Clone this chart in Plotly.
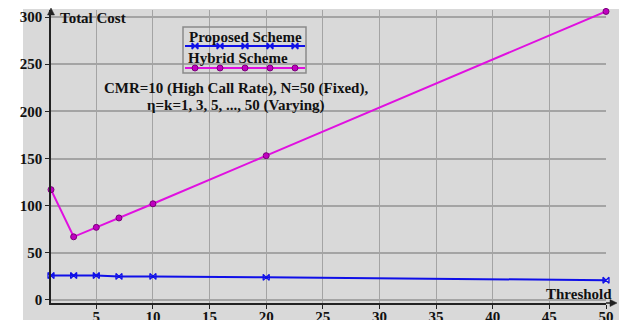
import plotly.graph_objects as go

# Threshold values (eta = k) and total cost for each scheme
threshold = [1, 3, 5, 7, 10, 20, 50]
proposed_cost = [26, 26, 26, 25, 25, 24, 21]
hybrid_cost = [117, 67, 77, 87, 102, 153, 306]

x_ticks = [5, 10, 15, 20, 25, 30, 35, 40, 45, 50]
y_ticks = [0, 50, 100, 150, 200, 250, 300]

SERIF = "Liberation Serif, Times New Roman, serif"
BLUE = "#1010e8"
MAGENTA = "#e010e0"
GRID = "#a4a4a4"
BG = "#d9d9d9"
AXIS = "#222222"

fig = go.Figure()

fig.add_trace(go.Scatter(
    x=threshold, y=proposed_cost, mode="lines+markers", name="Proposed Scheme",
    line=dict(color=BLUE, width=2), cliponaxis=False,
    marker=dict(symbol="bowtie-open", size=6, color=BLUE, line=dict(width=1.3, color=BLUE)),
    showlegend=False,
))
fig.add_trace(go.Scatter(
    x=threshold, y=hybrid_cost, mode="lines+markers", name="Hybrid Scheme",
    line=dict(color=MAGENTA, width=2), cliponaxis=False,
    marker=dict(symbol="circle", size=6, color="#c000c0", line=dict(width=1, color="#7a007a")),
    showlegend=False,
))

# Legend glyphs, drawn on a hidden overlay axis (pixel-like coordinates)
leg_x = [195, 220, 245, 270, 295]
fig.add_trace(go.Scatter(
    x=[185, 305], y=[46, 46], xaxis="x2", yaxis="y2", mode="lines",
    line=dict(color=BLUE, width=2), showlegend=False, hoverinfo="skip",
))
fig.add_trace(go.Scatter(
    x=leg_x, y=[46] * 5, xaxis="x2", yaxis="y2", mode="markers",
    marker=dict(symbol="bowtie-open", size=6, color=BLUE, line=dict(width=1.3, color=BLUE)),
    showlegend=False, hoverinfo="skip",
))
fig.add_trace(go.Scatter(
    x=[185, 305], y=[68, 68], xaxis="x2", yaxis="y2", mode="lines",
    line=dict(color=MAGENTA, width=2), showlegend=False, hoverinfo="skip",
))
fig.add_trace(go.Scatter(
    x=leg_x, y=[68] * 5, xaxis="x2", yaxis="y2", mode="markers",
    marker=dict(symbol="circle", size=6, color="#c000c0", line=dict(width=1, color="#7a007a")),
    showlegend=False, hoverinfo="skip",
))

font = dict(family=SERIF, size=15, color="#111111", weight="bold")
tick_font = dict(family=SERIF, size=15, color="#111111", weight="bold")

W, H = 619, 320
L, R, T, B = 51, 13, 10, 17
pw, ph = W - L - R, H - T - B


def px_x(p):
    return (p - L) / pw


def px_y(p):
    return 1 - (p - T) / ph


fig.update_layout(
    width=W, height=H,
    margin=dict(l=L, r=R, t=T, b=B, autoexpand=False),
    paper_bgcolor="white",
    plot_bgcolor="rgba(0,0,0,0)",
    font=font,
    xaxis=dict(
        range=[1, 50], tickvals=x_ticks, ticks="outside", ticklen=4, tickcolor=AXIS,
        ticklabelstandoff=-5,
        showgrid=True, gridcolor=GRID, gridwidth=1, zeroline=False,
        showline=True, linecolor=AXIS, linewidth=1.5, automargin=False,
        tickfont=tick_font,
    ),
    yaxis=dict(
        range=[-3.2, 307.5], tickvals=y_ticks, ticks="outside", ticklen=4, tickcolor=AXIS,
        showgrid=True, gridcolor=GRID, gridwidth=1.5, zeroline=False,
        showline=True, linecolor=AXIS, linewidth=1.5, automargin=False,
        tickfont=tick_font,
    ),
    xaxis2=dict(range=[L, W - R], overlaying="x", visible=False, fixedrange=True, automargin=False),
    yaxis2=dict(range=[H - B, T], overlaying="y", visible=False, fixedrange=True, automargin=False),
    shapes=[
        # gray canvas behind the plot
        dict(type="rect", xref="paper", yref="paper", layer="below",
             x0=px_x(23), x1=px_x(640), y0=px_y(340), y1=px_y(9),
             fillcolor=BG, line=dict(width=0)),
        # legend frame
        dict(type="rect", xref="x2", yref="y2", x0=183, x1=306, y0=27, y1=73,
             fillcolor="rgba(0,0,0,0)", line=dict(color="#8a8a8a", width=1.5)),
        # axis extensions with arrowheads
        dict(type="line", xref="paper", yref="paper", x0=0, x1=0, y0=1, y1=px_y(10),
             line=dict(color=AXIS, width=1.5)),
        dict(type="path", xref="paper", yref="paper",
             path=f"M {px_x(47.5)} {px_y(15)} L {px_x(51)} {px_y(8)} L {px_x(54.5)} {px_y(15)} Z",
             fillcolor=AXIS, line=dict(color=AXIS, width=0.5)),
        dict(type="line", xref="paper", yref="paper", x0=1, x1=px_x(614), y0=0, y1=0,
             line=dict(color=AXIS, width=1.5)),
        dict(type="path", xref="paper", yref="paper",
             path=f"M {px_x(610)} {px_y(H - B - 3.5)} L {px_x(617)} {px_y(H - B)} L {px_x(610)} {px_y(H - B + 3.5)} Z",
             fillcolor=AXIS, line=dict(color=AXIS, width=0.5)),
    ],
    annotations=[
        dict(text="Total Cost", xref="x2", yref="y2", x=58, y=18,
             xanchor="left", yanchor="middle", showarrow=False, font=font),
        dict(text="Threshold", xref="paper", yref="y2", x=px_x(614), y=294,
             xanchor="right", yanchor="middle", showarrow=False, font=font),
        dict(text="Proposed Scheme", xref="x2", yref="y2", x=245, y=37,
             xanchor="center", yanchor="middle", showarrow=False, font=font),
        dict(text="Hybrid Scheme", xref="x2", yref="y2", x=238, y=58,
             xanchor="center", yanchor="middle", showarrow=False, font=font),
        dict(text="CMR=10 (High Call Rate), N=50 (Fixed),", xref="x2", yref="y2",
             x=236, y=88, xanchor="center", yanchor="middle", showarrow=False, font=font),
        dict(text="\u03b7=k=1, 3, 5, ..., 50 (Varying)", xref="x2", yref="y2",
             x=236, y=105, xanchor="center", yanchor="middle", showarrow=False, font=font),
    ],
)

fig.write_html("out.html")
